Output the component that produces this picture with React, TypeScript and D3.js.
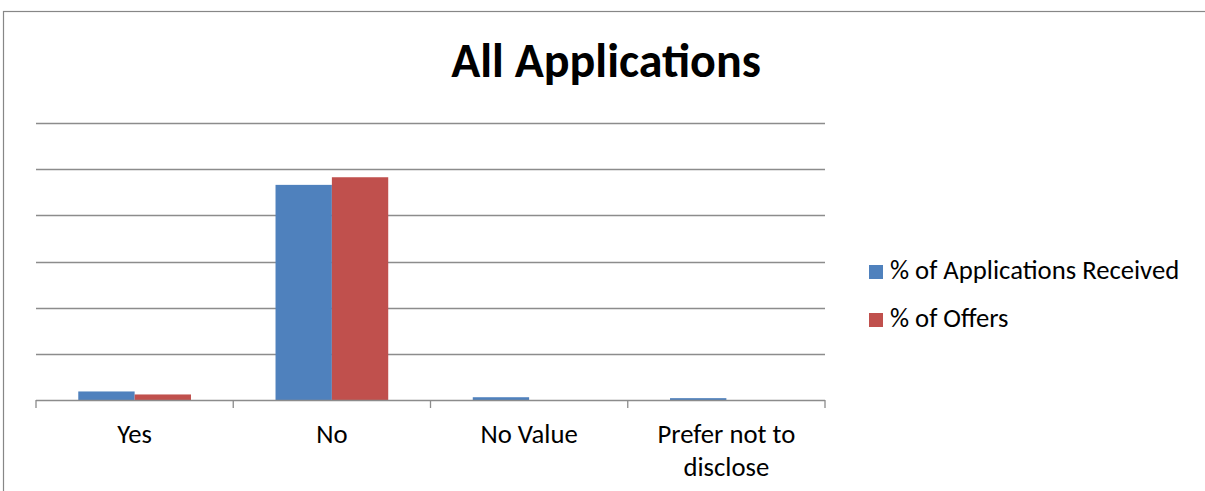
import React, { useEffect, useRef } from 'react';
import * as d3 from 'd3';

const categories = ['Yes', 'No', 'No Value', 'Prefer not to disclose'];
const seriesNames = ['% of Applications Received', '% of Offers'];
const applications = [3.7, 93.2, 1.2, 0.8];
const offers = [2.4, 96.5, 0, 0];
const gridTicks = [0, 20, 40, 60, 80, 100, 120];
const colors = ['#4f81bd', '#c0504d'];

const W = 1205;
const H = 491;

const App = () => {
  const ref = useRef<SVGSVGElement>(null);

  useEffect(() => {
    const svg = d3.select(ref.current);
    svg.selectAll('*').remove();

    const font = 'Carlito, Calibri, "Open Sans", sans-serif';
    const left = 36;
    const right = 825;
    const top = 123;
    const bottom = 400;

    // chart frame, runs off the page on right/bottom
    svg
      .append('rect')
      .attr('x', 3.5)
      .attr('y', 11.5)
      .attr('width', W + 10)
      .attr('height', H + 10)
      .attr('fill', 'white')
      .attr('stroke', '#878787')
      .attr('stroke-width', 1.2);

    svg
      .append('text')
      .text('All Applications')
      .attr('x', 606)
      .attr('y', 77)
      .attr('text-anchor', 'middle')
      .style('font-family', font)
      .style('font-weight', 'bold')
      .style('font-size', '48px');

    const x = d3.scaleBand().domain(categories).range([left, right]);
    const y = d3.scaleLinear().domain([0, 120]).range([bottom, top]);

    // gridlines
    svg
      .append('g')
      .selectAll('line')
      .data(gridTicks.slice(1))
      .enter()
      .append('line')
      .attr('x1', left)
      .attr('x2', right)
      .attr('y1', d => Math.round(y(d)) + 0.5)
      .attr('y2', d => Math.round(y(d)) + 0.5)
      .attr('stroke', '#8c8c8c')
      .attr('stroke-width', 1.3);

    // bars: gap width 150%
    const bw = x.bandwidth() / 3.5;
    const series = [applications, offers];
    series.forEach((vals, si) => {
      svg
        .append('g')
        .selectAll('rect')
        .data(vals)
        .enter()
        .append('rect')
        .attr('x', (d, i) => x(categories[i])! + bw * 0.75 + si * bw)
        .attr('width', bw)
        .attr('y', d => y(d))
        .attr('height', d => bottom - y(d))
        .attr('fill', colors[si]);
    });

    // x axis
    const ax = svg.append('g');
    ax.append('line')
      .attr('x1', left)
      .attr('x2', right)
      .attr('y1', bottom + 0.5)
      .attr('y2', bottom + 0.5)
      .attr('stroke', '#8c8c8c')
      .attr('stroke-width', 1.3);
    const edges = categories.map(c => x(c)!).concat([right]);
    ax.selectAll('line.tick')
      .data(edges)
      .enter()
      .append('line')
      .attr('class', 'tick')
      .attr('x1', d => d)
      .attr('x2', d => d)
      .attr('y1', bottom)
      .attr('y2', bottom + 8)
      .attr('stroke', '#8c8c8c')
      .attr('stroke-width', 1.3);

    const labelLines = (c: string) => (c === 'Prefer not to disclose' ? ['Prefer not to', 'disclose'] : [c]);
    categories.forEach(c => {
      const t = ax
        .append('text')
        .attr('x', x(c)! + x.bandwidth() / 2)
        .attr('y', 443)
        .attr('text-anchor', 'middle')
        .style('font-family', font)
        .style('font-size', '26.7px')
        .attr('fill', '#000');
      labelLines(c).forEach((l, i) => {
        t.append('tspan')
          .attr('x', x(c)! + x.bandwidth() / 2)
          .attr('dy', i === 0 ? 0 : 33)
          .text(l);
      });
    });

    // legend
    const lg = svg.append('g');
    seriesNames.forEach((n, i) => {
      lg.append('rect')
        .attr('x', 869)
        .attr('y', 265 + i * 48)
        .attr('width', 14)
        .attr('height', 14)
        .attr('fill', colors[i]);
      lg.append('text')
        .attr('x', 890)
        .attr('y', 279 + i * 48)
        .text(n)
        .style('font-family', font)
        .style('font-size', '26.7px')
        .attr('fill', '#000');
    });
  }, []);

  return (
    <svg
      ref={ref}
      width={W}
      height={H}
      style={{ position: 'absolute', left: 0, top: 0, background: 'white' }}
    ></svg>
  );
};

export default App;
